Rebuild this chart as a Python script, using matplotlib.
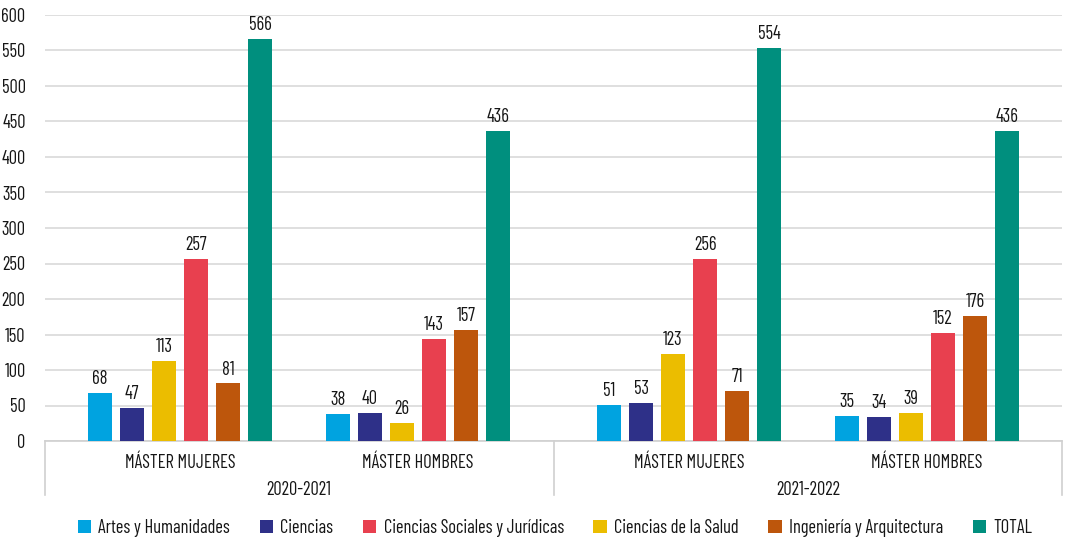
import matplotlib
matplotlib.use("Agg")
import matplotlib.pyplot as plt
import matplotlib.transforms as mtransforms
from matplotlib.patches import Patch
import numpy as np

plt.rcParams['font.family'] = ['Barlow Condensed', 'Barlow Semi Condensed', 'DejaVu Sans']

years = ["2020-2021", "2021-2022"]
groups = ["MÁSTER MUJERES", "MÁSTER HOMBRES", "MÁSTER MUJERES", "MÁSTER HOMBRES"]
series_names = ["Artes y Humanidades", "Ciencias", "Ciencias de la Salud",
                "Ciencias Sociales y Jurídicas", "Ingeniería y Arquitectura", "TOTAL"]
artes = [68, 38, 51, 35]
ciencias = [47, 40, 53, 34]
salud = [113, 26, 123, 39]
sociales = [257, 143, 256, 152]
ingenieria = [81, 157, 71, 176]
total = [566, 436, 554, 436]
yticks = list(range(0, 601, 50))
legend_order = ["Artes y Humanidades", "Ciencias", "Ciencias Sociales y Jurídicas",
                "Ciencias de la Salud", "Ingeniería y Arquitectura", "TOTAL"]

colors = {"Artes y Humanidades": "#00a3e0", "Ciencias": "#2e3088",
          "Ciencias de la Salud": "#ebbd00", "Ciencias Sociales y Jurídicas": "#e8404f",
          "Ingeniería y Arquitectura": "#bd560c", "TOTAL": "#008f7e"}

series = [artes, ciencias, salud, sociales, ingenieria, total]
FS = 13.3
TC = '#151515'

fig = plt.figure(figsize=(10.66, 5.40), dpi=100)
ax = fig.add_axes([45/1066, 99/540, (1062-45)/1066, (441-15)/540])

centers = np.array([0.0, 1.0, 2.139, 3.139])
step = 0.1345
width = 0.101
for i, (name, vals) in enumerate(zip(series_names, series)):
    xs = centers + (i - 2.5) * step
    ax.bar(xs, vals, width=width, color=colors[name], zorder=3)
    for x, v in zip(xs, vals):
        ax.text(x, v + 7, str(v), ha='center', va='bottom', fontsize=FS, color=TC)

ax.set_xlim(-0.567, 3.706)
ax.set_ylim(0, 600)
ax.set_yticks(yticks)
ax.set_yticklabels([str(t) for t in yticks], fontsize=FS, color=TC)
ax.tick_params(axis='y', length=0, pad=14)
ax.set_xticks([])
ax.grid(axis='y', color='#d9d9d9', linewidth=1.2, zorder=0)
for s in ['top', 'right', 'left']:
    ax.spines[s].set_visible(False)
ax.spines['bottom'].set_color('#d0d0d0')
ax.spines['bottom'].set_linewidth(1.2)

trans = mtransforms.blended_transform_factory(ax.transData, ax.transAxes)
for xsep in [-0.567, 1.5695, 3.706]:
    ax.plot([xsep, xsep], [0, -54/426], transform=trans, color='#d0d0d0',
            linewidth=1.2, clip_on=False)
for c, g in zip(centers, groups):
    ax.text(c, -22/426, g, transform=trans, ha='center', va='center',
            fontsize=FS, color=TC)
year_centers = [(centers[0] + centers[1]) / 2, (centers[2] + centers[3]) / 2]
for c, y in zip(year_centers, years):
    ax.text(c, -49/426, y, transform=trans, ha='center', va='center',
            fontsize=FS, color=TC)

handles = [Patch(facecolor=colors[n], edgecolor='none') for n in legend_order]
fig.legend(handles, legend_order, loc='center', bbox_to_anchor=(555/1066, 1 - 528/540),
           ncol=6, frameon=False, fontsize=FS, handlelength=0.72, handleheight=0.72,
           handletextpad=0.4, columnspacing=1.6, labelcolor=TC)

fig.savefig("out.png", dpi=100)
